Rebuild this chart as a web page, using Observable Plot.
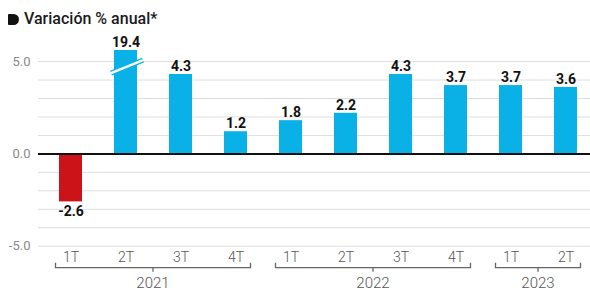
<!DOCTYPE html>
<html><head><meta charset="utf-8">
<script src="https://cdn.jsdelivr.net/npm/d3@7"></script>
<script src="https://cdn.jsdelivr.net/npm/@observablehq/plot@0.6"></script>
<style>
body{margin:0;background:#fff;}
#wrap{position:relative;width:590px;height:291px;font-family:Roboto, sans-serif;}
#title{position:absolute;left:8px;top:10px;font-size:16px;font-weight:500;color:#1a1a1a;display:flex;align-items:center;line-height:18px;z-index:2;}
#title .mark{display:inline-block;width:11px;height:11px;background:#111;border-radius:1px 6px 6px 1px;margin-right:5px;}
#chart{position:absolute;left:0;top:0;}
</style></head><body>
<div id="wrap"><div id="title"><span class="mark"></span>Variación % anual*</div><div id="chart"></div></div>
<script>
const years = ["2021","2021","2021","2021","2022","2022","2022","2022","2023","2023"];
const quarters = ["1T","2T","3T","4T","1T","2T","3T","4T","1T","2T"];
const values = [-2.6, 19.4, 4.3, 1.2, 1.8, 2.2, 4.3, 3.7, 3.7, 3.6];
const yTicks = [-5, 0, 5];
const gridValues = [-5, -4, -3, -2, -1, 0, 1, 2, 3, 4, 5];
const yearLabels = ["2021", "2022", "2023"];
const axisTop = 5.6;          // top of the visible value axis; taller bars are drawn broken
const breakFrom = 4.35, breakTo = 5.05; // where the break slash crosses a broken bar

const data = values.map((v, i) => ({key: years[i] + "-" + quarters[i], year: years[i], q: quarters[i], v}));
const keys = data.map(d => d.key);

const BLUE = "#0ab1e6", RED = "#cc1318";

function decorations(index, scales, vals, dims) {
  const x = scales.x, y = scales.y;
  const bw = typeof x.bandwidth === "function" ? x.bandwidth() : x.bandwidth;
  const g = d3.create("svg:g");
  // year brackets
  const by = dims.height - dims.marginBottom + 22;
  const ext = bw / 2 + 3.5;
  for (const yr of yearLabels) {
    const ks = data.filter(d => d.year === yr).map(d => d.key);
    const c0 = x(ks[0]) + bw / 2, c1 = x(ks[ks.length - 1]) + bw / 2;
    const a = c0 - ext, b = c1 + ext, m = (c0 + c1) / 2;
    g.append("path")
      .attr("d", `M${a},${by - 5}V${by}H${b}V${by - 5}M${m},${by}V${by + 4}`)
      .attr("fill", "none").attr("stroke", "#666").attr("stroke-width", 1.3);
    g.append("text").attr("x", m).attr("y", by + 15).attr("dy", "0.32em")
      .attr("text-anchor", "middle").attr("fill", "#555")
      .attr("font-size", 15).attr("font-weight", 300).text(yr);
  }
  // break slash on bars exceeding the axis
  for (const d of data.filter(d => d.v > axisTop)) {
    const x0 = x(d.key) - 3, x1 = x(d.key) + bw + 6;
    const p = `M${x0},${y(breakFrom)}L${x1},${y(breakTo)}`;
    g.append("path").attr("d", p).attr("stroke", BLUE).attr("stroke-width", 5).attr("fill", "none");
    g.append("path").attr("d", p).attr("stroke", "#fff").attr("stroke-width", 2.4).attr("fill", "none");
  }
  return g.node();
}

const chart = Plot.plot({
  width: 590,
  height: 291,
  marginLeft: 38,
  marginRight: 0,
  marginTop: 50,
  marginBottom: 45.3,
  style: {fontFamily: "Roboto, sans-serif", fontSize: "13px", overflow: "visible", background: "transparent"},
  x: {type: "band", domain: keys, paddingInner: 0.575, paddingOuter: 0.254, align: 0.628, axis: null, label: null},
  y: {domain: [-5, axisTop], clamp: true, label: null},
  marks: [
    Plot.ruleY(gridValues, {stroke: "#dedede", strokeWidth: 1}),
    Plot.axisY(yTicks, {tickSize: 0, tickPadding: 8, tickFormat: d => d.toFixed(1), fill: "#8a8a8a", fontSize: 13, label: null}),
    Plot.barY(data, {x: "key", y1: 0, y2: "v", fill: d => d.v < 0 ? RED : BLUE}),
    Plot.ruleY([0], {stroke: "#111", strokeWidth: 2}),
    Plot.text(data.filter(d => d.v >= 0), {x: "key", y: "v", text: d => d.v.toFixed(1), dy: -8, fontSize: 14, fontWeight: "bold", fill: "#111"}),
    Plot.text(data.filter(d => d.v < 0), {x: "key", y: "v", text: d => d.v.toFixed(1), dy: 10, fontSize: 14, fontWeight: "bold", fill: "#111"}),
    Plot.text(data, {x: "key", text: "q", frameAnchor: "bottom", dy: 16, fontSize: 14, fontWeight: 300, fill: "#555"}),
    decorations
  ]
});
document.getElementById("chart").appendChild(chart);
</script>
</body></html>
